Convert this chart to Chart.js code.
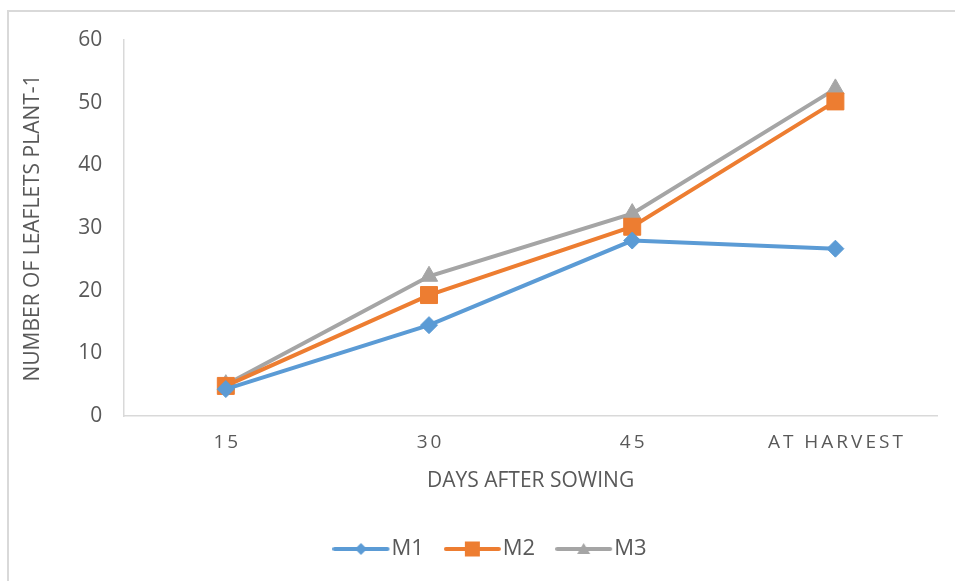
<!DOCTYPE html>
<html>
<head>
<meta charset="utf-8">
<script src="https://cdn.jsdelivr.net/npm/chart.js@4/dist/chart.umd.min.js"></script>
<style>
  html, body { margin: 0; padding: 0; background: #fff; overflow: hidden; }
  #wrap { position: absolute; left: 0; top: 0; width: 955px; height: 581px; }
  #frame { position: absolute; left: 7px; top: 10px; width: 2000px; height: 2000px;
           border: 2px solid #d9d9d9; box-sizing: border-box; pointer-events: none; }
</style>
</head>
<body>
<div id="frame"></div>
<div id="wrap"><canvas id="chart" width="955" height="581"></canvas></div>
<script>
// Days after sowing
const categories = ['15', '30', '45', 'AT HARVEST'];
// Number of leaflets per plant for each treatment
const m1 = [4.3, 14.5, 28.0, 26.7];
const m2 = [4.8, 19.3, 30.2, 50.2];
const m3 = [5.0, 22.3, 32.3, 52.2];
const seriesNames = ['M1', 'M2', 'M3'];
const yTicks = [0, 10, 20, 30, 40, 50, 60];

const BLUE = '#5B9BD5', ORANGE = '#ED7D31', GREY = '#A5A5A5', TEXT = '#595959';
const FONT = "'Open Sans', sans-serif";

// Small line-with-marker swatch for the legend
function swatch(color, shape) {
  const c = document.createElement('canvas');
  c.width = 60; c.height = 20;
  const g = c.getContext('2d');
  g.strokeStyle = color; g.fillStyle = color; g.lineWidth = 4; g.lineCap = 'round';
  g.beginPath(); g.moveTo(2, 10); g.lineTo(55, 10); g.stroke();
  const cx = 28.5, cy = 10;
  g.beginPath();
  if (shape === 'diamond') {
    g.moveTo(cx, cy - 6); g.lineTo(cx + 6, cy); g.lineTo(cx, cy + 6); g.lineTo(cx - 6, cy); g.closePath();
  } else if (shape === 'square') {
    g.rect(cx - 7.5, cy - 7.5, 15, 15);
  } else {
    g.moveTo(cx, cy - 6); g.lineTo(cx + 6.5, cy + 5); g.lineTo(cx - 6.5, cy + 5); g.closePath();
  }
  g.fill();
  return c;
}
const swatches = [swatch(BLUE, 'diamond'), swatch(ORANGE, 'square'), swatch(GREY, 'triangle')];

// Spaced-out category labels on the x axis, legend nudged toward the page centre
const layoutTweaks = {
  id: 'layoutTweaks',
  beforeDraw(chart) {
    const sx = chart.scales.x;
    if (sx && !sx.__spaced) {
      const orig = sx.drawLabels.bind(sx);
      sx.drawLabels = function (area) {
        const ctx = this.ctx;
        ctx.save();
        ctx.letterSpacing = '3px';
        ctx.translate(1.5, 0);
        orig(area);
        ctx.restore();
      };
      sx.__spaced = true;
    }
    const lg = chart.legend;
    if (lg && !lg.__shifted) {
      const origDraw = lg.draw.bind(lg);
      lg.draw = function () {
        const ctx = this.ctx;
        ctx.save();
        ctx.translate(23, 0);
        origDraw();
        ctx.restore();
      };
      lg.__shifted = true;
    }
  }
};

const colors = [BLUE, ORANGE, GREY];
const styles = ['rectRot', 'rect', 'triangle'];
const radii = [8.5, 12, 10];
const values = [m1, m2, m3];

new Chart(document.getElementById('chart'), {
  type: 'line',
  data: {
    labels: categories,
    datasets: seriesNames.map((name, i) => ({
      label: name,
      data: values[i],
      borderColor: colors[i],
      backgroundColor: colors[i],
      borderWidth: 4,
      pointStyle: styles[i],
      pointRadius: radii[i],
      pointHoverRadius: radii[i],
      pointBorderWidth: 1,
      pointBackgroundColor: colors[i],
      pointBorderColor: colors[i],
      tension: 0
    }))
  },
  options: {
    responsive: false,
    animation: false,
    layout: { padding: { left: 8, right: 18, top: 40, bottom: 11 } },
    plugins: {
      tooltip: { enabled: false },
      legend: {
        position: 'bottom',
        labels: {
          usePointStyle: true,
          pointStyleWidth: 36,
          padding: 32,
          color: TEXT,
          font: { family: FONT, size: 22 },
          generateLabels(chart) {
            return chart.data.datasets.map((ds, i) => ({
              text: ds.label,
              pointStyle: swatches[i],
              fillStyle: colors[i],
              strokeStyle: colors[i],
              fontColor: TEXT,
              lineWidth: 0,
              hidden: false,
              datasetIndex: i
            }));
          }
        }
      }
    },
    scales: {
      x: {
        offset: true,
        grid: { display: false, drawTicks: false },
        border: { display: true, color: '#d9d9d9', width: 1.5 },
        ticks: { color: TEXT, font: { family: FONT, size: 19 }, padding: 15, maxRotation: 0 },
        title: {
          display: true, text: 'DAYS AFTER SOWING', color: TEXT,
          font: { family: FONT, size: 21 }, padding: { top: 0, bottom: 12 }
        }
      },
      y: {
        min: 0, max: 60,
        afterBuildTicks(scale) { scale.ticks = yTicks.map(v => ({ value: v })); },
        grid: { display: false, drawTicks: false },
        border: { display: true, color: '#d9d9d9', width: 1.5 },
        ticks: { color: TEXT, font: { family: FONT, size: 21 }, padding: 22 },
        title: {
          display: true, text: 'NUMBER OF LEAFLETS PLANT-1', color: TEXT,
          font: { family: FONT, size: 21 }, padding: { top: 12, bottom: 11 }
        }
      }
    }
  },
  plugins: [layoutTweaks]
});
</script>
</body>
</html>
